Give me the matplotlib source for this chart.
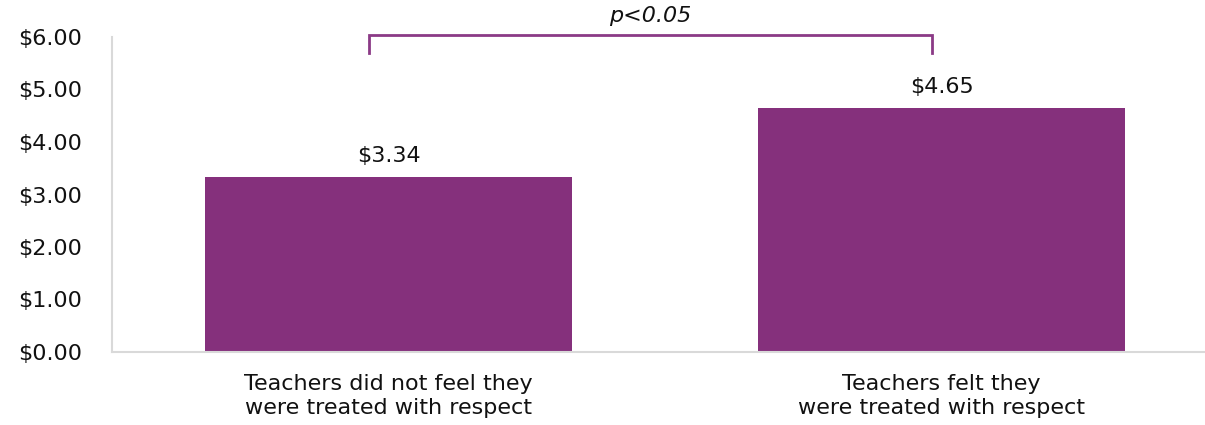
import matplotlib
matplotlib.use("Agg")
import matplotlib.pyplot as plt

categories = ["Teachers did not feel they\nwere treated with respect",
              "Teachers felt they\nwere treated with respect"]
values = [3.34, 4.65]
value_labels = ["$3.34", "$4.65"]
y_ticks = [0, 1, 2, 3, 4, 5, 6]
y_tick_labels = ["$0.00", "$1.00", "$2.00", "$3.00", "$4.00", "$5.00", "$6.00"]
sig_text = "p<0.05"

BAR_COLOR = "#85307C"
BRACKET_COLOR = "#8B3A86"
SPINE_COLOR = "#D9D9D9"
TEXT_COLOR = "#111111"
FS = 16

plt.rcParams["font.family"] = ["DejaVu Sans"]

fig = plt.figure(figsize=(12.05, 4.25), dpi=100)
ax = fig.add_axes([112 / 1205, 73 / 425, 1 - 112 / 1205, 315 / 425])

x = list(range(len(categories)))
ax.bar(x, values, width=0.665, color=BAR_COLOR, zorder=2)

ax.set_xlim(-0.5, -0.5 + 1093 / 553)
ax.set_ylim(0, 6)

ax.set_yticks(y_ticks)
ax.set_yticklabels(y_tick_labels, fontsize=FS, color=TEXT_COLOR)
ax.set_xticks(x)
ax.set_xticklabels(categories, fontsize=FS, color=TEXT_COLOR, linespacing=1.25)
ax.tick_params(axis="both", length=0)
ax.tick_params(axis="y", pad=21.5)
ax.tick_params(axis="x", pad=16)

for side in ("top", "right"):
    ax.spines[side].set_visible(False)
for side in ("left", "bottom"):
    ax.spines[side].set_color(SPINE_COLOR)
    ax.spines[side].set_linewidth(1.5)

for xi, v, lab in zip(x, values, value_labels):
    ax.annotate(lab, (xi, v), xytext=(0, 8), textcoords="offset points",
                ha="center", va="bottom", fontsize=FS, color=TEXT_COLOR)

# significance bracket between the two groups
bx0, bx1 = -0.035, 0.982
btop, bbot = 6.04, 5.70
ax.plot([bx0, bx0, bx1, bx1], [bbot, btop, btop, bbot], color=BRACKET_COLOR,
        linewidth=2, clip_on=False, zorder=3, solid_joinstyle="miter")
ax.text((bx0 + bx1) / 2, 6.40, sig_text, ha="center", va="center",
        fontsize=FS, style="italic", color=TEXT_COLOR)

fig.savefig("out.png", dpi=100)
